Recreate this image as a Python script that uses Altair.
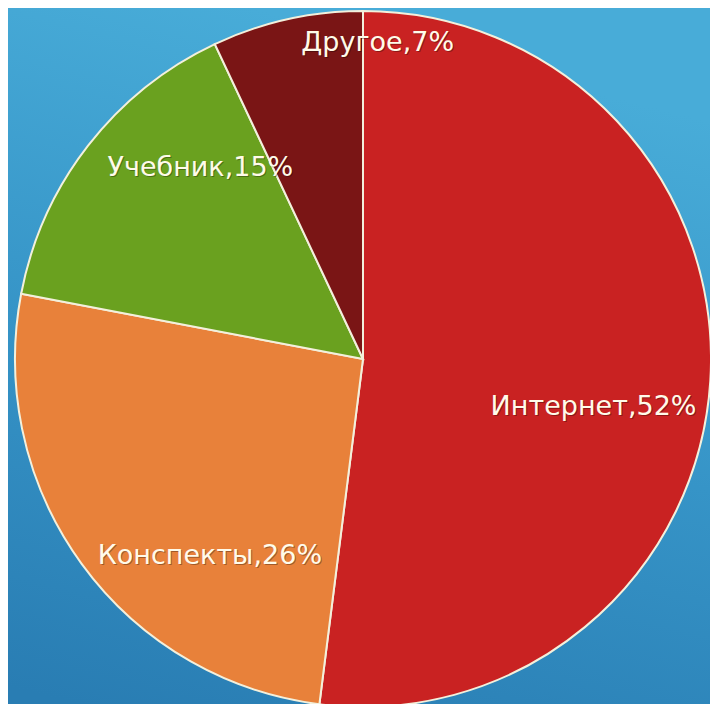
import altair as alt
import pandas as pd

categories = ["Интернет", "Конспекты", "Учебник", "Другое"]
shares = [52, 26, 15, 7]
labels = ["Интернет,52%", "Конспекты,26%", "Учебник,15%", "Другое,7%"]
colors = ["#c92222", "#e8813a", "#6aa11f", "#7a1515"]

df = pd.DataFrame({"cat": categories, "val": shares, "label": labels,
                   "ord": list(range(len(categories)))})

W, H = 702, 696
CX, CY = 355, 351

bg = alt.Chart(pd.DataFrame({"a": [0]})).mark_rect(
    color=alt.Gradient(
        gradient="linear",
        stops=[alt.GradientStop(color="#48acd8", offset=0),
               alt.GradientStop(color="#3694c7", offset=0.5),
               alt.GradientStop(color="#297db3", offset=1)],
        x1=0.35, y1=0, x2=0.1, y2=1,
    )
).encode(x=alt.value(0), x2=alt.value(W), y=alt.value(0), y2=alt.value(H))

base = alt.Chart(df).encode(
    theta=alt.Theta("val:Q", stack=True),
    order=alt.Order("ord:Q"),
    x=alt.value(CX),
    y=alt.value(CY),
)

pie = base.mark_arc(radius=348, stroke="#f3f0dc", strokeWidth=2).encode(
    color=alt.Color("cat:N", scale=alt.Scale(domain=categories, range=colors), legend=None)
)

offsets = {"Интернет": (-9, 33), "Конспекты": (41, 56), "Учебник": (27, -44), "Другое": (67, -82)}

texts = []
for c in categories:
    dx, dy = offsets[c]
    sub = base.transform_calculate(show="datum.cat == '" + c + "' ? datum.label : ''")
    shadow = sub.mark_text(radius=240, dx=dx + 1, dy=dy + 1, font="DejaVu Sans",
                           fontSize=27, color="#000000", opacity=0.3).encode(text="show:N")
    t = sub.mark_text(radius=240, dx=dx, dy=dy, font="DejaVu Sans",
                      fontSize=27, color="#fffbea").encode(text="show:N")
    texts += [shadow, t]

chart = alt.layer(bg, pie, *texts).properties(
    width=W, height=H, padding=0,
    autosize=alt.AutoSizeParams(type="none"),
).configure_view(stroke=None).configure(background="#3a9ccd")

chart.save("out.html", embed_options={"renderer": "svg", "actions": False})
